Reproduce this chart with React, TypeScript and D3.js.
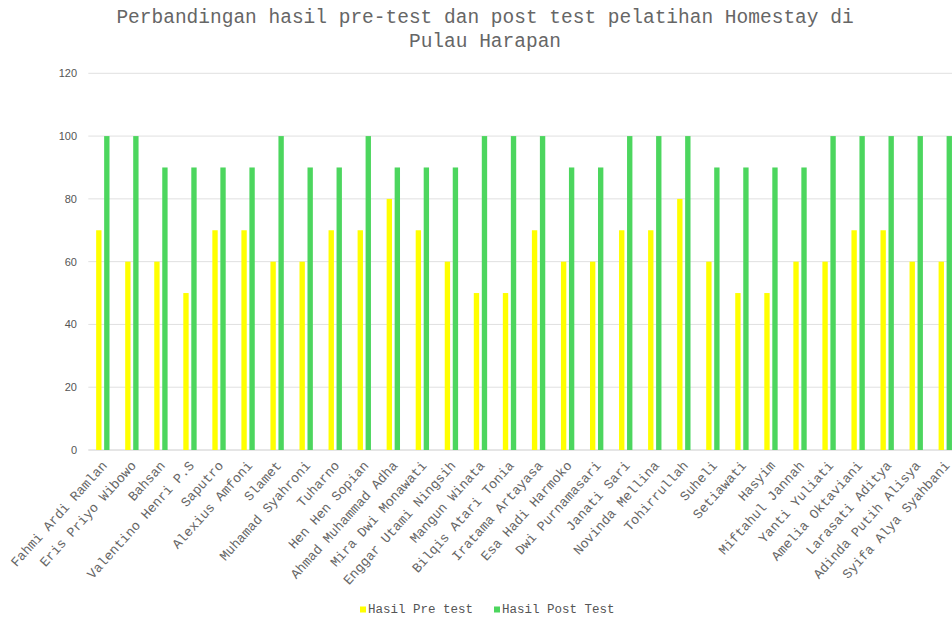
import React from 'react';
import * as d3 from 'd3';

const names = [
  'Fahmi Ardi Ramlan', 'Eris Priyo Wibowo', 'Bahsan', 'Valentino Henri P.S', 'Saputro',
  'Alexius Amfoni', 'Slamet', 'Muhamad Syahroni', 'Tuharno', 'Hen Hen Sopian',
  'Ahmad Muhammad Adha', 'Mira Dwi Monawati', 'Enggar Utami Ningsih', 'Mangun Winata', 'Bilqis Atari Tonia',
  'Iratama Artayasa', 'Esa Hadi Harmoko', 'Dwi Purnamasari', 'Janati Sari', 'Novinda Mellina',
  'Tohirrullah', 'Suheli', 'Setiawati', 'Hasyim', 'Miftahul Jannah',
  'Yanti Yuliati', 'Amelia Oktaviani', 'Larasati Aditya', 'Adinda Putih Alisya', 'Syifa Alya Syahbani',
];
const preTest = [70, 60, 60, 50, 70, 70, 60, 60, 70, 70, 80, 70, 60, 50, 50, 70, 60, 60, 70, 70, 80, 60, 50, 50, 60, 60, 70, 70, 60, 60];
const postTest = [100, 100, 90, 90, 90, 90, 100, 90, 90, 100, 90, 90, 90, 100, 100, 100, 90, 90, 100, 100, 100, 90, 90, 90, 90, 100, 100, 100, 100, 100];
const yTicks = [0, 20, 40, 60, 80, 100, 120];
const seriesNames = ['Hasil Pre test', 'Hasil Post Test'];
const seriesColors = ['#ffff00', '#4cd65e'];

const W = 952, H = 617;
const left = 88.3, bandStep = 29.05, top = 73.3, bottom = 450;
const mono = '"Liberation Mono", "Courier New", monospace';

export default function App() {
  const x = d3.scaleBand<string>().domain(names)
    .range([left, left + bandStep * names.length]).paddingInner(0.54).paddingOuter(0.27);
  const xs = d3.scaleBand<string>().domain(['pre', 'post']).range([0, x.bandwidth()]).paddingInner(0.33);
  const y = d3.scaleLinear().domain([0, 120]).range([bottom, top]);

  const rows = names.map((n, i) => ({ name: n, pre: preTest[i], post: postTest[i] }));

  return (
    <div style={{ position: 'absolute', left: 0, top: 0 }}>
      <svg width={W} height={H} style={{ display: 'block', background: '#fff' }}>
        <text x={485} y={23} textAnchor="middle" fontFamily={mono} fontSize={19.5} fill="#666">
          Perbandingan hasil pre-test dan post test pelatihan Homestay di
        </text>
        <text x={485} y={46.5} textAnchor="middle" fontFamily={mono} fontSize={19.5} fill="#666">
          Pulau Harapan
        </text>

        {yTicks.map(t => (
          <g key={t}>
            <line x1={left} x2={W} y1={y(t)} y2={y(t)} stroke={t === 0 ? '#ccc' : '#e0e0e0'} strokeWidth={1} />
            <text x={77} y={y(t)} dy="0.35em" textAnchor="end" fontFamily='"Liberation Sans", Arial, sans-serif'
              fontSize={11} fill="#555">{t}</text>
          </g>
        ))}

        {rows.map(r => (
          <g key={r.name} transform={`translate(${x(r.name)},0)`}>
            <rect x={xs('pre')} y={y(r.pre)} width={xs.bandwidth()} height={y(0) - y(r.pre)} fill={seriesColors[0]} />
            <rect x={xs('post')} y={y(r.post)} width={xs.bandwidth()} height={y(0) - y(r.post)} fill={seriesColors[1]} />
          </g>
        ))}

        {names.map(n => {
          const cx = (x(n) as number) + x.bandwidth() / 2 + 5;
          return (
            <text key={n} transform={`translate(${cx},${bottom + 16}) rotate(-48)`} textAnchor="end"
              fontFamily={mono} fontSize={13.4} fill="#666">{n}</text>
          );
        })}

        {seriesNames.map((s, i) => {
          const lx = i === 0 ? 360 : 494;
          return (
            <g key={s}>
              <rect x={lx} y={606.5} width={6} height={6} fill={seriesColors[i]} />
              <text x={lx + 8} y={613} fontFamily={mono} fontSize={12.5} fill="#555">{s}</text>
            </g>
          );
        })}
      </svg>
    </div>
  );
}
